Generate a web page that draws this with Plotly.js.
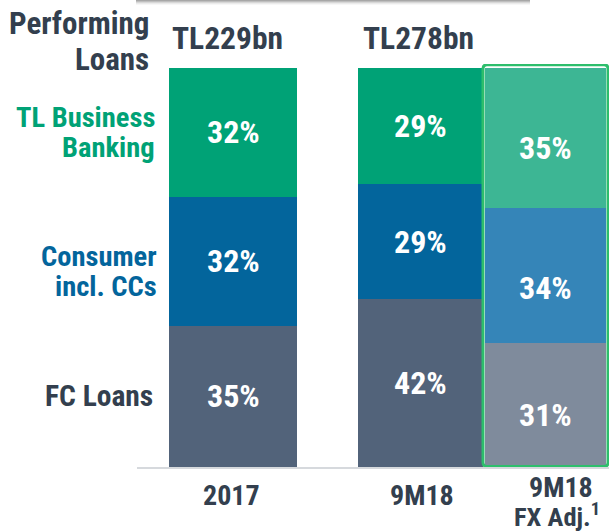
<!DOCTYPE html>
<html>
<head>
<meta charset="utf-8">
<script src="https://cdn.plot.ly/plotly-3.0.1.min.js"></script>
<style>
  html, body { margin: 0; padding: 0; background: #ffffff; }
  #chart { width: 609px; height: 532px; }
</style>
</head>
<body>
<div id="chart"></div>
<script>
// ---------------- data ----------------
const categories = ['2017', '9M18', '9M18<br>FX Adj.<sup>1</sup>'];
const segmentNames = ['FC Loans', 'Consumer<br>incl. CCs', 'TL Business<br>Banking'];
const fcLoans  = [35, 42, 31];
const consumer = [32, 29, 34];
const business = [32, 29, 35];
const totalLabels = ['TL229bn', 'TL278bn', ''];
const sideTitle = 'Performing<br>Loans';

// ---------------- layout config ----------------
const xPos = [0, 1.5, 2.5];
const barWidths = [1.024, 1, 0.97];
const darkColors  = ['#52637A', '#03659C', '#00A276'];
const lightColors = ['#7F8B9C', '#3585B8', '#3DB694'];
const segLabelColors = ['#333F4E', '#03659C', '#00A276'];
const textDark = '#333F4E';

function fontAvailable(name) {
  const c = document.createElement('canvas').getContext('2d');
  const s = 'mmmmmmmmmmlli1WWwwQ0%';
  c.font = '72px monospace';
  const a = c.measureText(s).width;
  c.font = '72px "' + name + '", monospace';
  const b = c.measureText(s).width;
  return Math.abs(a - b) > 0.5;
}
const narrowCandidates = ['Liberation Sans Narrow', 'Roboto Condensed', 'Arial Narrow', 'DejaVu Sans Condensed'];
let FONT = 'Liberation Sans, Arial, sans-serif';
let scale = 0.82;
for (const f of narrowCandidates) {
  if (fontAvailable(f)) { FONT = '"' + f + '", Liberation Sans, sans-serif'; scale = 1; break; }
}
const fs = v => v * (scale < 1 ? 0.86 : 1);

// pixel geometry helpers
const W = 609, H = 532;
const M = { l: 137, r: 0, t: 64, b: 65 };
const plotW = W - M.l - M.r, plotH = H - M.t - M.b;
const px = x => (x - M.l) / plotW;
const py = y => (H - M.b - y) / plotH;

const series = [fcLoans, consumer, business];
const traces = series.map((vals, s) => ({
  type: 'bar',
  x: xPos,
  y: vals,
  width: barWidths,
  name: segmentNames[s],
  marker: { color: xPos.map((_, i) => i === 2 ? lightColors[s] : darkColors[s]), line: { width: 0 } },
  hoverinfo: 'none',
  showlegend: false
}));

const annotations = [];
// segment percentage labels
const pctShift = [0, 0, -10];
for (let i = 0; i < xPos.length; i++) {
  const tot = series.reduce((a, v) => a + v[i], 0);
  let cum = 0;
  for (let s = 0; s < series.length; s++) {
    const v = series[s][i];
    const mid = (cum + v / 2) / tot * 100;
    cum += v;
    annotations.push({
      xref: 'x', yref: 'y', x: xPos[i], y: mid,
      text: v + '%', showarrow: false,
      xanchor: 'center', yanchor: 'middle', yshift: pctShift[i] - (i === 2 && s === 1 ? 3 : 0),
      font: { family: FONT, size: fs(32), color: '#ffffff', weight: 'bold' }
    });
  }
}
// left segment labels (placed beside first bar's segments)
const segShift = [0, -10, 0];
const segSize = [29.5, 28.5, 28.5];
{
  const tot = series.reduce((a, v) => a + v[0], 0);
  let cum = 0;
  for (let s = 0; s < series.length; s++) {
    const v = series[s][0];
    const mid = (cum + v / 2) / tot * 100;
    cum += v;
    const lines = segmentNames[s].split('<br>');
    lines.forEach((ln, k) => {
      const off = (lines.length - 1) * 15 - k * 30;
      annotations.push({
        xref: 'paper', yref: 'y', x: px(s === 1 ? 159 : (s === 0 ? 155 : 157)), y: mid,
        text: ln, showarrow: false, xanchor: 'right', yanchor: 'middle',
        yshift: off + segShift[s],
        font: { family: FONT, size: fs(segSize[s]), color: segLabelColors[s], weight: 'bold' }
      });
    });
  }
}
// side title
sideTitle.split('<br>').forEach((ln, k) => {
  annotations.push({
    xref: 'paper', yref: 'paper', x: px(151), y: py([23, 60][k]),
    text: ln, showarrow: false, xanchor: 'right', yanchor: 'middle',
    font: { family: FONT, size: fs(31), color: textDark, weight: 'bold' }
  });
});
// totals above bars
const totShift = [-6, -2, 0];
totalLabels.forEach((t, i) => {
  if (!t) return;
  annotations.push({
    xref: 'x', yref: 'paper', x: xPos[i], y: py(39), xshift: totShift[i],
    text: t, showarrow: false, xanchor: 'center', yanchor: 'middle',
    font: { family: FONT, size: fs(31.5), color: textDark, weight: 'bold' }
  });
});
// category labels
const catShift = [[-2], [1.5], [15, 11]];
const catY = [[495], [495], [487, 515]];
const catSize = [[28], [28], [28, 26.5]];
categories.forEach((c, i) => {
  const lines = c.split('<br>');
  lines.forEach((ln, k) => {
    annotations.push({
      xref: 'x', yref: 'paper', x: xPos[i], y: py(catY[i][k]), xshift: catShift[i][k],
      text: ln, showarrow: false, xanchor: 'center', yanchor: 'middle',
      font: { family: FONT, size: fs(catSize[i][k]), color: textDark, weight: 'bold' }
    });
  });
});

// rounded border around third bar
const bx0 = 2.0, bx1 = 3.0, by0 = 0.15, by1 = 100.8;
const rx = 4 / 125, ry = 4 / (plotH / 101);
const borderPath =
  `M ${bx0 + rx},${by0} L ${bx1 - rx},${by0} Q ${bx1},${by0} ${bx1},${by0 + ry} ` +
  `L ${bx1},${by1 - ry} Q ${bx1},${by1} ${bx1 - rx},${by1} L ${bx0 + rx},${by1} ` +
  `Q ${bx0},${by1} ${bx0},${by1 - ry} L ${bx0},${by0 + ry} Q ${bx0},${by0} ${bx0 + rx},${by0} Z`;

const shapes = [
  { type: 'path', xref: 'x', yref: 'y', path: borderPath, layer: 'above',
    line: { color: '#2DBE6C', width: 3 }, fillcolor: 'rgba(0,0,0,0)' }
];
// top shadow strip (cropped box from the source slide)
[[0.5, 0.45], [1.5, 0.33], [2.5, 0.2], [3.5, 0.1], [4.5, 0.04]].forEach(([yy, op]) => {
  shapes.push({
    type: 'line', xref: 'paper', yref: 'paper',
    x0: px(136), x1: px(530), y0: py(yy), y1: py(yy),
    line: { color: `rgba(60,60,60,${op})`, width: 1 }
  });
});

const layout = {
  width: W, height: H,
  margin: M,
  paper_bgcolor: '#ffffff', plot_bgcolor: '#ffffff',
  barmode: 'stack', barnorm: 'percent',
  bargap: 0,
  xaxis: {
    range: [-0.768, -0.768 + plotW / 125],
    showgrid: false, zeroline: false, showticklabels: false, ticks: '',
    showline: true, linecolor: '#D6D9DD', linewidth: 2, fixedrange: true
  },
  yaxis: {
    range: [0, 101], showgrid: false, zeroline: false, showticklabels: false,
    ticks: '', showline: false, fixedrange: true
  },
  annotations: annotations,
  shapes: shapes,
  showlegend: false
};

Plotly.newPlot('chart', traces, layout, { displayModeBar: false, staticPlot: true });
</script>
</body>
</html>
